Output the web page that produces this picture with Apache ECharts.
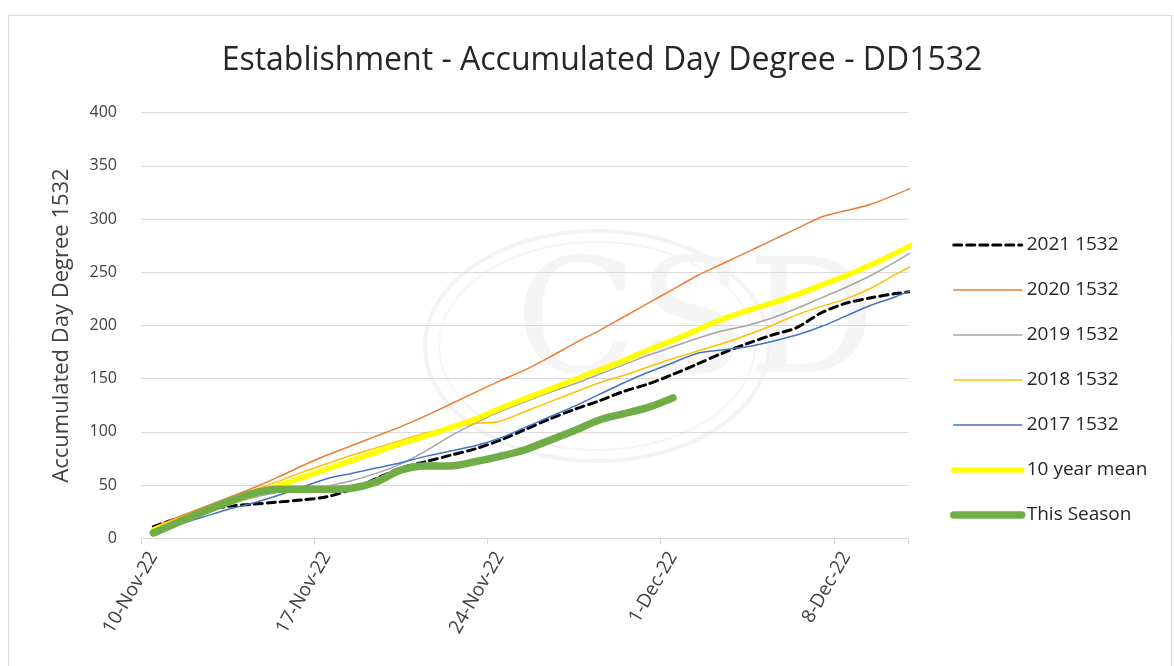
<!DOCTYPE html>
<html>
<head>
<meta charset="utf-8">
<script src="https://cdn.jsdelivr.net/npm/echarts@6/dist/echarts.min.js"></script>
<style>
html,body{margin:0;padding:0;background:#fff;}
#chart{width:1174px;height:666px;}
</style>
</head>
<body>
<div id="chart"></div>
<script>
// Dates: one category per day (last one lies just beyond the axis end and is clipped)
var dates = ['10-Nov-22','11-Nov-22','12-Nov-22','13-Nov-22','14-Nov-22','15-Nov-22','16-Nov-22',
  '17-Nov-22','18-Nov-22','19-Nov-22','20-Nov-22','21-Nov-22','22-Nov-22','23-Nov-22',
  '24-Nov-22','25-Nov-22','26-Nov-22','27-Nov-22','28-Nov-22','29-Nov-22','30-Nov-22',
  '1-Dec-22','2-Dec-22','3-Dec-22','4-Dec-22','5-Dec-22','6-Dec-22','7-Dec-22',
  '8-Dec-22','9-Dec-22','10-Dec-22','11-Dec-22'];
var axisDayCount = 31;

var s2021 = [11,19,26,30,32,34,36,39,46,56,66,72,78,84,92,102,112,121,129,138,145,154,164,174,183,191,198,212,221,226,230,233];
var s2020 = [10,20,29,38,47,57,68,78,87,96,105,115,126,137,148,158,170,183,195,208,221,234,247,258,269,280,291,302,308,314,323,333];
var s2019 = [8,16,24,31,38,43,46,49,54,61,70,82,96,108,119,128,137,145,154,163,172,180,188,195,200,207,216,226,236,247,260,274];
var s2018 = [9,19,28,37,45,53,62,70,78,85,92,99,104,108,110,119,128,137,146,153,161,169,176,183,191,200,210,218,225,235,248,260];
var s2017 = [6,13,20,27,33,40,48,56,61,66,71,77,82,87,94,104,114,124,135,146,156,165,174,177,180,185,191,199,209,219,227,237];
var mean10 = [8,16,24,33,41,49,57,65,73,81,89,96,104,112,122,131,140,149,158,167,177,186,196,206,214,221,229,238,247,257,268,280];
var thisSeason = [5,15,25,34,42,46,46,46,47,53,64,68,68,72,77,83,92,101,111,117,123,132];

var yTicks = [0,50,100,150,200,250,300,350,400];
var legendNames = ['2021 1532','2020 1532','2019 1532','2018 1532','2017 1532','10 year mean','This Season'];

function pairs(arr){ return arr.map(function(v,i){ return [i, v]; }); }

var FONT = '"Open Sans", sans-serif';
var chart = echarts.init(document.getElementById('chart'), null, {renderer:'canvas'});

function mkLine(name, data, color, width, extra){
  var s = {
    name: name, type: 'line', xAxisIndex: 1, yAxisIndex: 0,
    data: pairs(data), smooth: 0.3, symbol: 'none', showSymbol: false,
    lineStyle: { color: color, width: width, cap: 'round', join: 'round' },
    itemStyle: { color: color },
    emphasis: { disabled: true }, animation: false, clip: true
  };
  if (extra) { for (var k in extra) s.lineStyle[k] = extra[k]; }
  return s;
}

var option = {
  backgroundColor: '#fff',
  animation: false,
  title: {
    text: 'Establishment - Accumulated Day Degree - DD1532',
    left: 597, top: 40, textAlign: 'center',
    textStyle: { fontFamily: FONT, fontSize: 32, fontWeight: 'normal', color: '#262626' }
  },
  graphic: [
    { type: 'rect', shape: { x: 8.5, y: 15.5, width: 1163, height: 700 }, style: { fill: 'none', stroke: '#d9d9d9', lineWidth: 1 }, silent: true, z: -10 },
    { type: 'ellipse', shape: { cx: 597, cy: 346, rx: 172, ry: 115 }, style: { fill: 'none', stroke: '#f3f3f3', lineWidth: 4 }, silent: true, z: -5 },
    { type: 'ellipse', shape: { cx: 597, cy: 346, rx: 158, ry: 104 }, style: { fill: 'none', stroke: '#f5f5f5', lineWidth: 2 }, silent: true, z: -5 },
    { type: 'text', left: 515, top: 250, style: { text: 'CSD', font: '160px "DejaVu Serif", serif', fill: '#f5f5f5' }, silent: true, z: -5 }
  ],
  grid: { left: 141, top: 112.7, width: 767, height: 425.6, containLabel: false },
  legend: {
    orient: 'vertical', left: 950, top: 235, padding: 0,
    itemWidth: 68, itemHeight: 20, itemGap: 25,
    selectedMode: false,
    itemStyle: { opacity: 0 },
    lineStyle: { width: 'inherit' },
    textStyle: { fontFamily: FONT, fontSize: 19, color: '#262626', lineHeight: 20 },
    data: legendNames
  },
  xAxis: [
    {
      type: 'category', data: dates.slice(0, axisDayCount), boundaryGap: true, position: 'bottom',
      axisLine: { show: true, lineStyle: { color: '#d9d9d9', width: 1 } },
      axisTick: { show: true, interval: 6, length: 6, lineStyle: { color: '#d9d9d9' } },
      axisLabel: { interval: 6, rotate: 60, margin: 15, fontFamily: FONT, fontSize: 19, color: '#404040' },
      splitLine: { show: false }
    },
    { type: 'value', min: -0.5, max: axisDayCount - 0.5, show: false, gridIndex: 0 }
  ],
  yAxis: {
    type: 'value', min: yTicks[0], max: yTicks[yTicks.length-1], interval: 50,
    name: 'Accumulated Day Degree 1532', nameLocation: 'middle', nameGap: 68, nameRotate: 90,
    nameTextStyle: { fontFamily: FONT, fontSize: 22, color: '#404040' },
    axisLine: { show: false }, axisTick: { show: false },
    axisLabel: { margin: 24, fontFamily: FONT, fontSize: 16, color: '#404040' },
    splitLine: { lineStyle: { color: '#d9d9d9', width: 1 } }
  },
  series: [
    mkLine(legendNames[0], s2021, '#000000', 3, { type: [8, 5] }),
    mkLine(legendNames[1], s2020, '#ED7D31', 1.5),
    mkLine(legendNames[2], s2019, '#A5A5A5', 1.5),
    mkLine(legendNames[3], s2018, '#FFC000', 1.5),
    mkLine(legendNames[4], s2017, '#4472C4', 1.5),
    mkLine(legendNames[5], mean10, '#FFFF00', 5.5),
    mkLine(legendNames[6], thisSeason, '#70AD47', 7.5)
  ]
};
chart.setOption(option);
</script>
</body>
</html>
